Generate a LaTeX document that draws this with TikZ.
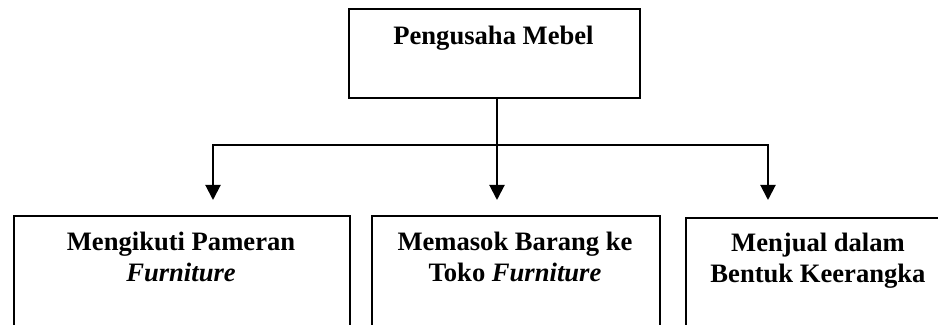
\documentclass[tikz,border=0pt]{standalone}
\usepackage{fontspec}
\setmainfont{Liberation Serif}
\usetikzlibrary{arrows.meta}
\begin{document}
\begin{tikzpicture}[x=0.5pt,y=-0.5pt,
  box/.style={draw, line width=1pt, anchor=north west, inner sep=0pt},
  lbl/.style={anchor=base, align=center, inner sep=0pt, font=\fontsize{13.3}{15.5}\selectfont\bfseries},
  conn/.style={line width=1pt},
  arr/.style={line width=1pt, -{Triangle[width=7.5pt,length=7.5pt]}}]
\useasboundingbox (0,0) rectangle (938,325);
\clip (0,0) rectangle (938,325);
% boxes
\node[box, minimum width=145.5pt, minimum height=44.5pt] (top) at (348,8) {};
\node[box, minimum width=168pt, minimum height=80pt] (b1) at (13,215) {};
\node[box, minimum width=144pt, minimum height=80pt] (b2) at (371,215) {};
\node[box, minimum width=133pt, minimum height=80pt] (b3) at (685,217) {};
% labels (base anchor = baseline of last line)
\node[lbl] (t0) at (493.5,45) {Pengusaha Mebel};
\node[lbl] (t1) at (181,282) {Mengikuti Pameran\\\textit{Furniture}};
\node[lbl] (t2) at (515,282) {Memasok Barang ke\\Toko \textit{Furniture}};
\node[lbl] (t3) at (818,283) {Menjual dalam\\Bentuk Keerangka};
% connectors
\coordinate (j) at (497,145);
\coordinate (a1) at (213,200);
\coordinate (a2) at (497,200);
\coordinate (a3) at (768,200);
\draw[conn] (top.south -| j) -- (j);
\draw[arr] (j) -| (a1);
\draw[arr] (j) -- (a2);
\draw[arr] (j) -| (a3);
\end{tikzpicture}
\end{document}
